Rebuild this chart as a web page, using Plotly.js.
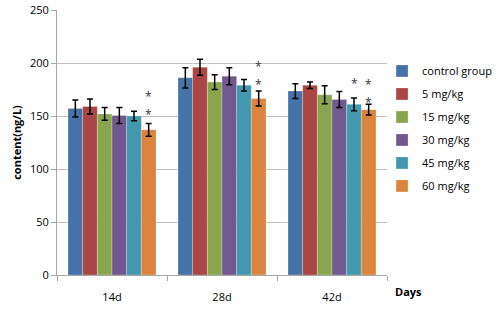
<!DOCTYPE html>
<html>
<head>
<meta charset="utf-8">
<script src="https://cdn.plot.ly/plotly-3.0.1.min.js"></script>
<style>html,body{margin:0;padding:0;background:#fff;}#chart{width:500px;height:311px;}</style>
</head>
<body>
<div id="chart"></div>
<script>
var days = ["14d", "28d", "42d"];
var groups = ["control group", "5 mg/kg", "15 mg/kg", "30 mg/kg", "45 mg/kg", "60 mg/kg"];
var control = [157, 186, 173.5];
var mg5 = [159, 196, 179];
var mg15 = [152, 182, 170];
var mg30 = [150.5, 187.5, 165.5];
var mg45 = [150, 179, 161];
var mg60 = [137, 166.5, 156];
var errControl = [8, 9.5, 7];
var errMg5 = [7, 7.5, 3];
var errMg15 = [6, 7, 8.5];
var errMg30 = [7.5, 8, 7.5];
var errMg45 = [4.5, 5.5, 6];
var errMg60 = [6, 7, 5];
// significance markers: day index, group index, y value
var starDay = [0, 0, 1, 1, 2, 2, 2];
var starGroup = [5, 5, 5, 5, 4, 5, 5];
var starY = [168, 151, 196.5, 179.5, 181, 180, 163];

var colors = ["#4572A7", "#AA4643", "#89A54E", "#71588F", "#4198AF", "#DB843D"];
var values = [control, mg5, mg15, mg30, mg45, mg60];
var errs = [errControl, errMg5, errMg15, errMg30, errMg45, errMg60];

var traces = groups.map(function (g, i) {
  return {
    type: "bar",
    name: g,
    x: days,
    y: values[i],
    legendgroup: "g" + i,
    marker: {color: colors[i], line: {color: "rgba(255,255,255,0.5)", width: 0.5}},
    error_y: {type: "data", array: errs[i], visible: true, color: "#000", thickness: 1.5, width: 3}
  };
});

var bargap = 0.2;
var nG = groups.length;
var annotations = starDay.map(function (d, k) {
  return {
    x: d + (starGroup[k] - (nG - 1) / 2) * (1 - bargap) / nG,
    y: starY[k],
    xref: "x", yref: "y",
    text: "*",
    showarrow: false,
    font: {family: "Open Sans, sans-serif", size: 12, color: "#333"}
  };
});
annotations.push({
  xref: "paper", yref: "paper",
  x: 1.018, y: -0.025, xanchor: "left", yanchor: "top",
  text: "<b>Days</b>", showarrow: false,
  font: {family: "Open Sans, sans-serif", size: 11, color: "#000"}
});

var layout = {
  width: 500, height: 311,
  margin: {l: 57, r: 113, t: 10, b: 36, autoexpand: false},
  paper_bgcolor: "#fff", plot_bgcolor: "#fff",
  barmode: "group",
  bargap: bargap, bargroupgap: 0,
  font: {family: "Open Sans, sans-serif", size: 11, color: "#000"},
  showlegend: true,
  legend: {
    x: 0.985, y: 0.825, xanchor: "left", yanchor: "top",
    font: {size: 11}, tracegroupgap: 4,
    bgcolor: "rgba(0,0,0,0)"
  },
  xaxis: {
    type: "category",
    showline: true, linecolor: "#a6a6a6", linewidth: 1,
    ticks: "outside", tickson: "boundaries", ticklen: 5, tickcolor: "#a6a6a6",
    showgrid: false,
    ticklabelstandoff: 12,
    tickfont: {size: 11}
  },
  yaxis: {
    range: [0, 250], dtick: 50,
    showline: true, linecolor: "#a6a6a6", linewidth: 1,
    ticks: "outside", ticklen: 5, tickcolor: "#a6a6a6",
    showgrid: true, gridcolor: "#c0c0c0", gridwidth: 1,
    zeroline: false,
    tickfont: {size: 11},
    title: {text: "<b>content(ng/L)</b>", font: {size: 11}, standoff: 6}
  },
  annotations: annotations
};

Plotly.newPlot("chart", traces, layout, {displayModeBar: false, staticPlot: true});
</script>
</body>
</html>
